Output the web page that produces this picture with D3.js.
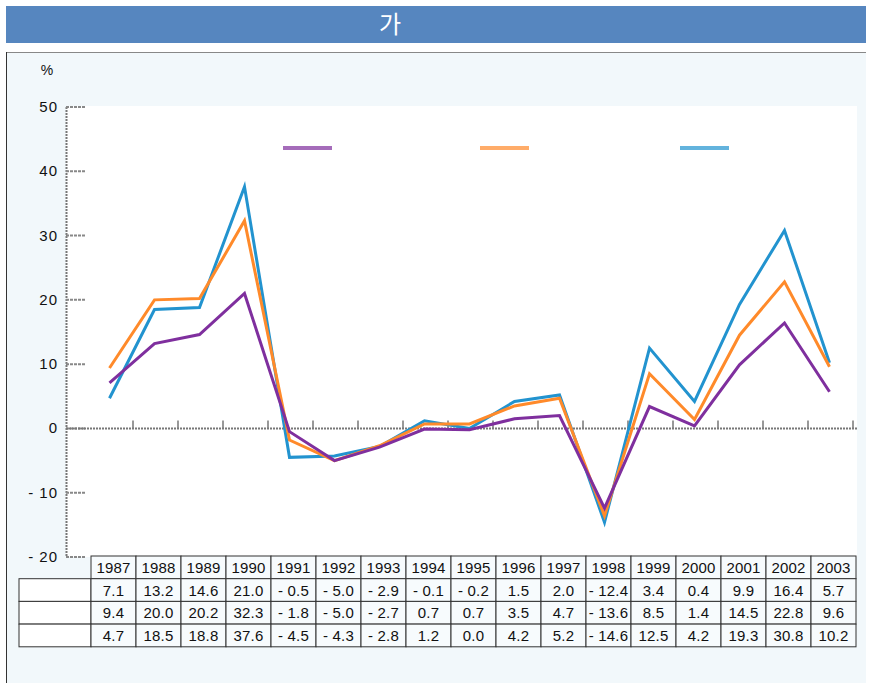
<!DOCTYPE html>
<html>
<head>
<meta charset="utf-8">
<script src="https://cdn.jsdelivr.net/npm/d3@7"></script>
<style>
  body { margin: 0; background: #fff; }
  svg { display: block; font-family: "Liberation Sans", Arial, sans-serif; }
</style>
</head>
<body>
<div id="chart"></div>
<script>
// data
var years = ["1987","1988","1989","1990","1991","1992","1993","1994","1995","1996","1997","1998","1999","2000","2001","2002","2003"]
var seriesA = [7.1, 13.2, 14.6, 21.0, -0.5, -5.0, -2.9, -0.1, -0.2, 1.5, 2.0, -12.4, 3.4, 0.4, 9.9, 16.4, 5.7]
var seriesB = [9.4, 20.0, 20.2, 32.3, -1.8, -5.0, -2.7, 0.7, 0.7, 3.5, 4.7, -13.6, 8.5, 1.4, 14.5, 22.8, 9.6]
var seriesC = [4.7, 18.5, 18.8, 37.6, -4.5, -4.3, -2.8, 1.2, 0.0, 4.2, 5.2, -14.6, 12.5, 4.2, 19.3, 30.8, 10.2]
var yTicks = [50, 40, 30, 20, 10, 0, -10, -20]
var colors = ["#7f2f9e", "#ff8a2a", "#2293cf"]

var w = 870, h = 683

var svg = d3.select('#chart').append('svg')
  .attr('width', w)
  .attr('height', h)

// title bar
svg.append('rect').attr('x', 6).attr('y', 6).attr('width', 860).attr('height', 37).attr('fill', '#5686bf')
svg.append('text').attr('x', 390).attr('y', 33).attr('text-anchor', 'middle')
  .attr('fill', '#fff').style('font-size', '24px').style('font-family', '"Noto Sans CJK KR", sans-serif')
  .text('가')

// panel
svg.append('rect').attr('x', 6).attr('y', 52).attr('width', 860).attr('height', 631).attr('fill', '#f2f8fb')
svg.append('line').attr('x1', 6).attr('x2', 866).attr('y1', 52.5).attr('y2', 52.5).attr('stroke', '#888')
svg.append('line').attr('x1', 6.5).attr('x2', 6.5).attr('y1', 52).attr('y2', 683).attr('stroke', '#333')

// plot area
var plotLeft = 66, plotRight = 857, plotTop = 106, plotBottom = 557
svg.append('rect').attr('x', plotLeft).attr('y', plotTop)
  .attr('width', plotRight - plotLeft).attr('height', plotBottom - plotTop).attr('fill', '#fff')

var x = d3.scaleBand().domain(years).range([90, 855])
var y = d3.scaleLinear().domain([-20, 50]).range([557, 107])

svg.append('text').attr('x', 47).attr('y', 75).attr('text-anchor', 'middle')
  .style('font-size', '14px').attr('fill', '#111').text('%')

// y axis
var yAxis = svg.append('g').attr('transform', 'translate(' + plotLeft + ',0)')
yAxis.append('line').attr('x1', 0.5).attr('x2', 0.5).attr('y1', y(50)).attr('y2', y(-20))
  .attr('stroke', '#777').attr('stroke-width', 2).attr('stroke-dasharray', '2,1')
yAxis.selectAll('.tick').data(yTicks).enter().append('line')
  .attr('x1', 0).attr('x2', 19)
  .attr('y1', function(d) { return y(d) }).attr('y2', function(d) { return y(d) })
  .attr('stroke', '#888').attr('stroke-width', 2).attr('stroke-dasharray', '3,1')
yAxis.selectAll('.lbl').data(yTicks).enter().append('text')
  .attr('x', -8).attr('y', function(d) { return y(d) + 5 })
  .attr('text-anchor', 'end').style('font-size', '15px').style('letter-spacing', '1px').attr('fill', '#111')
  .text(function(d) { return d < 0 ? '- ' + (-d) : d })

// zero line with ticks between categories
svg.append('line').attr('x1', plotLeft).attr('x2', plotRight).attr('y1', y(0)).attr('y2', y(0))
  .attr('stroke', '#777').attr('stroke-width', 2).attr('stroke-dasharray', '2,1')
svg.selectAll('.xtick').data(years).enter().append('line')
  .attr('x1', function(d) { return x(d) + x.bandwidth() - 2 })
  .attr('x2', function(d) { return x(d) + x.bandwidth() - 2 })
  .attr('y1', y(0)).attr('y2', y(0) - 8)
  .attr('stroke', '#777').attr('stroke-width', 1.5)

// lines
var line = d3.line()
  .x(function(d, i) { return x(years[i]) + x.bandwidth() / 2 - 3 })
  .y(function(d) { return y(d) })

var allSeries = [seriesC, seriesB, seriesA]
var allColors = [colors[2], colors[1], colors[0]]
allSeries.forEach(function(s, i) {
  svg.append('path').datum(s).attr('d', line)
    .attr('fill', 'none').attr('stroke', allColors[i]).attr('stroke-width', 3)
    .attr('stroke-linejoin', 'miter')
})

// legend swatches
var legendX = [283, 480, 680]
legendX.forEach(function(lx, i) {
  svg.append('line').attr('x1', lx).attr('x2', lx + 49).attr('y1', 148).attr('y2', 148)
    .attr('stroke', colors[i]).attr('stroke-width', 4).attr('opacity', 0.7)
})

// table
var tableTop = 556, rowH = 22.7
var rows = [seriesA, seriesB, seriesC]
var t = svg.append('g').style('font-size', '15px').style('letter-spacing', '0.2px')

t.selectAll('.hdr').data(years).enter().append('rect')
  .attr('x', function(d) { return x(d) + 1 }).attr('y', tableTop)
  .attr('width', x.bandwidth()).attr('height', rowH)
  .attr('fill', '#f7fbfd').attr('stroke', '#333')
t.selectAll('.hdrt').data(years).enter().append('text')
  .attr('x', function(d) { return x(d) + 1 + x.bandwidth() / 2 }).attr('y', tableTop + 17)
  .attr('text-anchor', 'middle').attr('fill', '#111').text(function(d) { return d })

rows.forEach(function(r, ri) {
  var ry = tableTop + rowH * (ri + 1)
  t.append('rect').attr('x', 19).attr('y', ry).attr('width', x(years[0]) + 1 - 19).attr('height', rowH)
    .attr('fill', '#fff').attr('stroke', '#333')
  t.selectAll('.c' + ri).data(r).enter().append('rect')
    .attr('x', function(d, i) { return x(years[i]) + 1 }).attr('y', ry)
    .attr('width', x.bandwidth()).attr('height', rowH)
    .attr('fill', '#f7fbfd').attr('stroke', '#333')
  t.selectAll('.ct' + ri).data(r).enter().append('text')
    .attr('x', function(d, i) { return x(years[i]) + 1 + x.bandwidth() / 2 }).attr('y', ry + 17)
    .attr('text-anchor', 'middle').attr('fill', '#111')
    .text(function(d) { return d < 0 ? '- ' + (-d).toFixed(1) : d.toFixed(1) })
})
</script>
</body>
</html>
